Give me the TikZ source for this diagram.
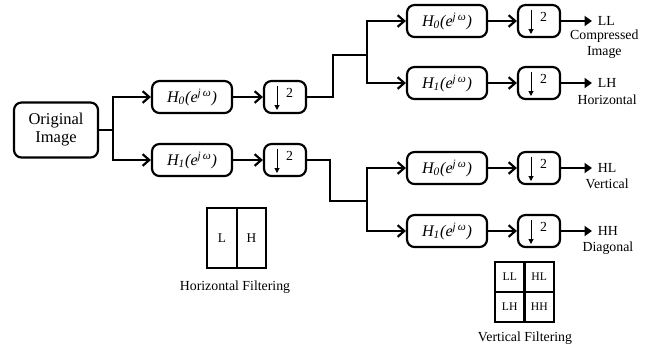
\documentclass[tikz,border=0pt]{standalone}
\usepackage{fontspec}
\setmainfont{Liberation Serif}
\usetikzlibrary{positioning,arrows.meta}
\newcommand{\hfilt}[1]{\textit{H\textsubscript{#1}(e\textsuperscript{j\,ω})}}

\begin{document}
\begin{tikzpicture}[x=0.6pt,y=-0.6pt,on grid,
  every node/.style={font=\fontsize{8.3}{9.6}\selectfont},
  blk/.style={draw,line width=1.3pt,rounded corners=4.5pt,align=center},
  orig/.style={blk,minimum width=50.4pt,minimum height=33pt,font=\fontsize{9.9}{10.8}\selectfont},
  filt/.style={blk,minimum width=48pt,minimum height=19.2pt,font=\fontsize{9.7}{11}\selectfont},
  dsmp/.style={blk,minimum width=25.2pt,minimum height=19.2pt,inner sep=0pt,
    path picture={
      \draw[line width=0.6pt,-{Triangle[length=3pt,width=3pt]}]
        ([shift={(-4.8pt,6.8pt)}]path picture bounding box.center) --
        ([shift={(-4.8pt,-7.8pt)}]path picture bounding box.center);
      \node[inner sep=0pt] at ([shift={(2.7pt,2.7pt)}]path picture bounding box.center) {2};
    }},
  cell/.style={draw,line width=1.3pt,font=\fontsize{7}{8}\selectfont},
  ln/.style={line width=1.3pt},
  arr/.style={ln,-{Straight Barb[length=4pt,width=7pt]}},
  outarr/.style={ln,-{Triangle[length=4.5pt,width=6pt]}}]
  \useasboundingbox (0,0) rectangle (658,351);

  % first stage
  \node[orig] (img) at (56,130) {Original\\Image};
  \node[filt] (h0) at (192,97) {\hfilt{0}};
  \node[filt] (h1) at (192,160) {\hfilt{1}};
  \node[dsmp] (d0) [right=55.8pt of h0] {};
  \node[dsmp] (d1) [right=55.8pt of h1] {};

  % second stage
  \node[filt] (h00) at (447,21) {\hfilt{0}};
  \node[filt] (h01) at (447,83) {\hfilt{1}};
  \node[filt] (h10) at (447,168) {\hfilt{0}};
  \node[filt] (h11) at (447,231) {\hfilt{1}};
  \node[dsmp] (d00) [right=55.2pt of h00] {};
  \node[dsmp] (d01) [right=55.2pt of h01] {};
  \node[dsmp] (d10) [right=55.2pt of h10] {};
  \node[dsmp] (d11) [right=55.2pt of h11] {};

  % outputs
  \node[anchor=west] (ll) at (592,21) {LL};
  \node[anchor=west] (lh) at (592,83) {LH};
  \node[anchor=west] (hl) at (592,168) {HL};
  \node[anchor=west] (hh) at (592,231) {HH};
  \node (llt) [below=13.8pt of ll,xshift=-1.2pt,align=center] {Compressed\\Image};
  \node (lht) [below=10.2pt of lh] {Horizontal};
  \node (hlt) [below=9.6pt of hl] {Vertical};
  \node (hht) [below=10.2pt of hh] {Diagonal};

  % branch points
  \coordinate (s1) at (113,130);
  \coordinate (c1) at (333,55);
  \coordinate (s2) at (367,55);
  \coordinate (c2) at (330,201);
  \coordinate (s3) at (367,201);

  \draw[ln] (img) -- (s1);
  \draw[arr] (s1) |- (h0);
  \draw[arr] (s1) |- (h1);
  \draw[arr] (h0) -- (d0);
  \draw[arr] (h1) -- (d1);
  \draw[ln] (d0.east) -| (c1) -- (s2);
  \draw[ln] (d1.east) -| (c2) -- (s3);
  \draw[arr] (s2) |- (h00);
  \draw[arr] (s2) |- (h01);
  \draw[arr] (s3) |- (h10);
  \draw[arr] (s3) |- (h11);
  \foreach \f/\d/\o in {h00/d00/ll,h01/d01/lh,h10/d10/hl,h11/d11/hh}{
    \draw[arr] (\f) -- (\d);
    \draw[outarr] (\d) -- (\o);
  }

  % horizontal filtering
  \node[cell,minimum width=17.7pt,minimum height=36pt,font=\fontsize{8}{9}\selectfont] (cL) at (222,238) {L};
  \node[cell,minimum width=17.7pt,minimum height=36pt,font=\fontsize{8}{9}\selectfont] (cH) [right=17.7pt of cL] {H};
  \node (hcap) at (235,287) {Horizontal Filtering};

  % vertical filtering
  \node[cell,minimum width=17.7pt,minimum height=18pt] (cLL) at (509.75,277) {LL};
  \node[cell,minimum width=17.7pt,minimum height=18pt] (cHL) [right=17.7pt of cLL] {HL};
  \node[cell,minimum width=17.7pt,minimum height=18pt] (cLH) [below=18pt of cLL] {LH};
  \node[cell,minimum width=17.7pt,minimum height=18pt] (cHH) [right=17.7pt of cLH] {HH};
  \node (vcap) at (525,338) {Vertical Filtering};
\end{tikzpicture}
\end{document}
